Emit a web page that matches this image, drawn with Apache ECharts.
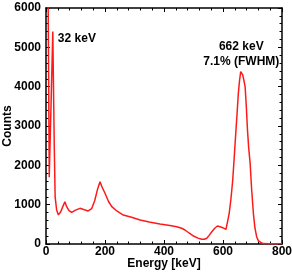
<!DOCTYPE html>
<html><head><meta charset="utf-8">
<script src="https://cdn.jsdelivr.net/npm/echarts@6/dist/echarts.min.js"></script>
<style>html,body{margin:0;padding:0;background:#fff}#c{width:292px;height:273px}</style>
</head><body><div id="c"></div>
<script>
const energy = [7, 11, 17, 23, 28, 31, 36, 42, 50, 57, 64, 70, 78, 87, 100, 115, 130, 143, 155, 165, 175, 183, 190, 200, 212, 223, 240, 262, 290, 319, 350, 386, 420, 443, 460, 471, 485, 500, 515, 528, 537, 545, 553, 562, 572, 581, 590, 599, 610, 615, 621, 627, 633, 638, 644, 648, 652, 656, 660, 663, 667, 671, 675, 679, 683, 687, 692, 697, 703, 708, 714, 720, 725, 735, 760, 800];
const counts = [6500, 1700, 3500, 5400, 2500, 1200, 865, 740, 820, 950, 1075, 950, 850, 805, 860, 907, 870, 840, 900, 1100, 1400, 1585, 1450, 1289, 1080, 950, 840, 737, 680, 610, 560, 508, 470, 440, 400, 356, 280, 203, 150, 119, 120, 145, 220, 313, 400, 458, 440, 415, 373, 550, 780, 1150, 1627, 2200, 2898, 3350, 3830, 4150, 4380, 4424, 4300, 4150, 4000, 3500, 2900, 2450, 2051, 1400, 780, 420, 186, 80, 33, 10, 5, 5];
const xTicks = [0, 200, 400, 600, 800];
const yTicks = [0, 1000, 2000, 3000, 4000, 5000, 6000];
const annotationText = ['32 keV', '662 keV\n7.1% (FWHM)'];
const annotationX = [30, 662];
const annotationY = [5230, 4820];

const chart = echarts.init(document.getElementById('c'));
const font = 'Liberation Sans, Arial, sans-serif';
const lineStyle = {color: '#000', width: 1.5};
function axisCommon(extra) {
  return Object.assign({
    axisLine: {show: true, onZero: false, lineStyle},
    axisTick: {show: true, inside: true, length: 4, lineStyle: {color: '#000', width: 1}},
    minorTick: {show: true, splitNumber: 5, length: 2.5, lineStyle: {color: '#000', width: 1}},
    splitLine: {show: false}
  }, extra);
}
const data = energy.map((e, i) => [e, counts[i]]);
const labelBase = {fontFamily: font, fontWeight: 'bold', fontSize: 12, color: '#000'};
chart.setOption({
  animation: false,
  grid: {left: 46, right: 10, top: 8, bottom: 29, containLabel: false, outerBoundsMode: 'none'},
  xAxis: [
    axisCommon({type: 'value', min: xTicks[0], max: xTicks[xTicks.length - 1], interval: 200, position: 'bottom',
      name: 'Energy [keV]', nameLocation: 'middle', nameGap: 14, nameMoveOverlap: false,
      nameTextStyle: labelBase,
      axisLabel: Object.assign({margin: 2, formatter: v => String(v)}, labelBase)}),
    axisCommon({type: 'value', min: xTicks[0], max: xTicks[xTicks.length - 1], interval: 200, position: 'top',
      axisLabel: {show: false}})
  ],
  yAxis: [
    axisCommon({type: 'value', min: yTicks[0], max: yTicks[yTicks.length - 1], interval: 1000, position: 'left',
      name: 'Counts', nameLocation: 'middle', nameGap: 32, nameMoveOverlap: false,
      nameTextStyle: labelBase,
      axisLabel: Object.assign({margin: 5, formatter: v => String(v)}, labelBase)}),
    axisCommon({type: 'value', min: yTicks[0], max: yTicks[yTicks.length - 1], interval: 1000, position: 'right',
      axisLabel: {show: false}})
  ],
  series: [{
    type: 'line', data, showSymbol: false, clip: true,
    lineStyle: {color: '#ff1a1a', width: 1.5}
  }, {
    type: 'scatter', symbolSize: 0, itemStyle: {color: '#ffffff', opacity: 1}, silent: true,
    data: annotationText.map((t, i) => ({
      value: [annotationX[i], annotationY[i]],
      label: Object.assign({show: true, formatter: t, lineHeight: 15, opacity: 1,
        position: i === 0 ? 'right' : 'inside', distance: 3, align: i === 0 ? 'left' : 'center'}, labelBase)
    }))
  }]
});
</script></body></html>
